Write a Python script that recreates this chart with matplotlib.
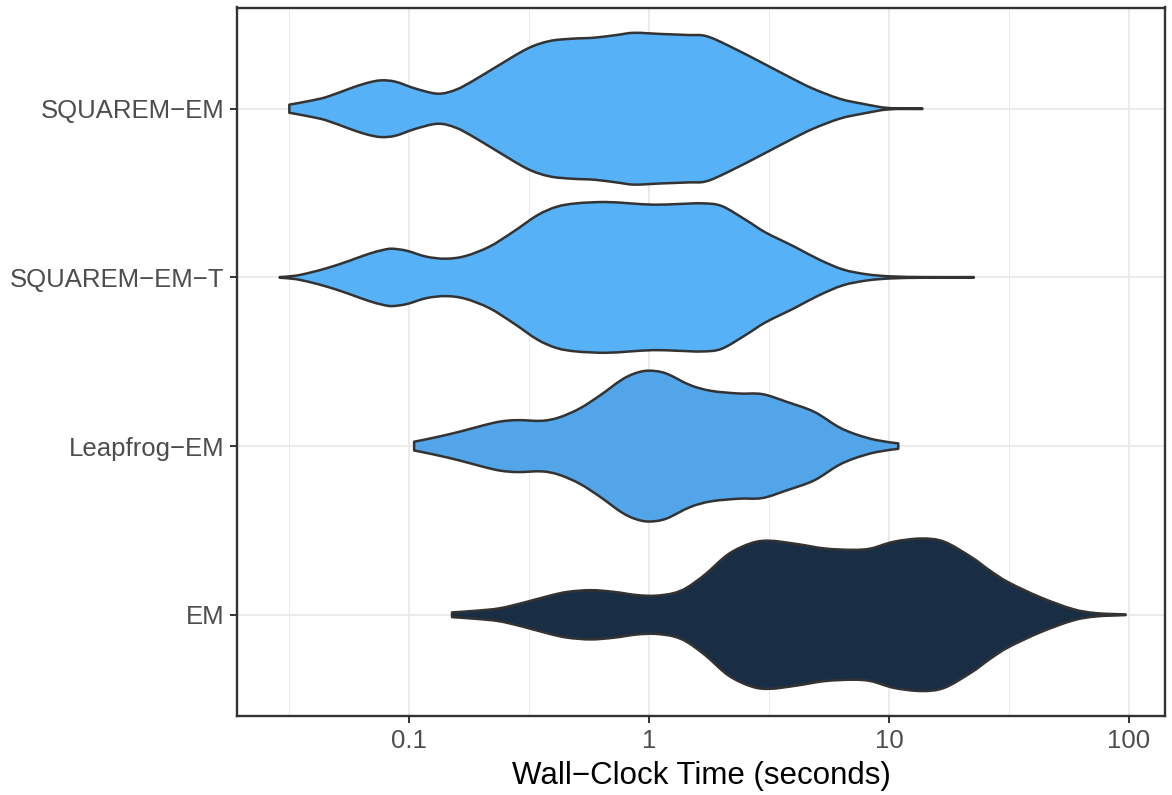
import numpy as np
import matplotlib
matplotlib.use("Agg")
import matplotlib.pyplot as plt
from matplotlib.path import Path
from matplotlib.patches import PathPatch
from matplotlib.ticker import FixedLocator, NullFormatter

plt.rcParams['font.family'] = ['Liberation Sans', 'DejaVu Sans']

# Methods, bottom to top
methods = ["EM", "Leapfrog\u2212EM", "SQUAREM\u2212EM\u2212T", "SQUAREM\u2212EM"]
fills = ["#192D45", "#52A5E8", "#56B1F7", "#56B1F7"]

# Violin outlines: wall-clock time (s) and half-width (in category units)
em_time = [0.151, 0.190, 0.237, 0.295, 0.385, 0.459, 0.572, 0.712, 0.888, 1.059,
           1.263, 1.442, 1.719, 2.143, 2.672, 3.185, 4.150, 5.405, 7.039, 8.395,
           10.46, 13.63, 16.99, 22.13, 26.40, 31.48, 42.85, 58.32, 72.70, 96.78]
em_width = [0.014, 0.024, 0.038, 0.069, 0.113, 0.136, 0.146, 0.136, 0.117, 0.113,
            0.128, 0.162, 0.241, 0.360, 0.425, 0.439, 0.419, 0.393, 0.385, 0.393,
            0.433, 0.452, 0.433, 0.340, 0.261, 0.192, 0.103, 0.034, 0.010, 0.002]

leap_time = [0.105, 0.128, 0.162, 0.204, 0.241, 0.284, 0.358, 0.422, 0.514, 0.627,
             0.765, 0.873, 0.996, 1.175, 1.481, 1.806, 2.352, 2.964, 3.735, 4.864,
             6.132, 7.232, 8.818, 10.93]
leap_width = [0.026, 0.051, 0.085, 0.123, 0.146, 0.154, 0.150, 0.170, 0.223, 0.302,
              0.391, 0.431, 0.447, 0.431, 0.362, 0.328, 0.312, 0.308, 0.263, 0.204,
              0.115, 0.071, 0.036, 0.016]

sqt_time = [0.0289, 0.0336, 0.0386, 0.0465, 0.0560, 0.0674, 0.0775, 0.0850, 0.0978,
            0.118, 0.142, 0.171, 0.216, 0.272, 0.343, 0.413, 0.498, 0.658, 0.831,
            1.048, 1.322, 1.668, 2.009, 2.535, 3.053, 4.036, 5.093, 6.427, 8.110,
            10.23, 14.17, 22.56]
sqt_width = [0.002, 0.010, 0.028, 0.059, 0.097, 0.138, 0.162, 0.170, 0.158,
             0.123, 0.111, 0.126, 0.182, 0.271, 0.369, 0.419, 0.439, 0.447, 0.439,
             0.431, 0.435, 0.439, 0.423, 0.340, 0.267, 0.182, 0.107, 0.047, 0.018,
             0.006, 0.002, 0.002]

sq_time = [0.0317, 0.0381, 0.0452, 0.0560, 0.0665, 0.0763, 0.0878, 0.1065, 0.132,
           0.157, 0.186, 0.230, 0.311, 0.385, 0.477, 0.591, 0.732, 0.868, 1.123,
           1.452, 1.724, 2.136, 3.008, 3.89, 4.82, 6.23, 7.72, 9.98, 13.77]
sq_width = [0.024, 0.045, 0.069, 0.117, 0.152, 0.168, 0.160, 0.119, 0.089,
            0.113, 0.168, 0.247, 0.356, 0.401, 0.415, 0.421, 0.437, 0.450, 0.443,
            0.437, 0.431, 0.375, 0.267, 0.184, 0.119, 0.059, 0.030, 0.004, 0.002]

x_breaks = [0.1, 1, 10, 100]
x_labels = ["0.1", "1", "10", "100"]
x_minor = [10 ** -1.5, 10 ** -0.5, 10 ** 0.5, 10 ** 1.5]

profiles = [(em_time, em_width), (leap_time, leap_width),
            (sqt_time, sqt_width), (sq_time, sq_width)]


def smooth_curve(px, py):
    """Cubic Bezier (Catmull-Rom) segments through the given vertices."""
    n = len(px)
    verts, codes = [], []
    for i in range(n - 1):
        i0, i2 = max(i - 1, 0), min(i + 2, n - 1)
        c1 = (px[i] + (px[i + 1] - px[i0]) / 6, py[i] + (py[i + 1] - py[i0]) / 6)
        c2 = (px[i + 1] - (px[i2] - px[i]) / 6, py[i + 1] - (py[i2] - py[i]) / 6)
        verts += [c1, c2, (px[i + 1], py[i + 1])]
        codes += [Path.CURVE4] * 3
    return verts, codes


def violin_path(times, widths, pos):
    lx = np.log10(np.asarray(times, dtype=float))
    w = np.asarray(widths, dtype=float)
    verts = [(lx[0], pos - w[0]), (lx[0], pos + w[0])]
    codes = [Path.MOVETO, Path.LINETO]
    v, c = smooth_curve(lx, pos + w)
    verts += v
    codes += c
    verts.append((lx[-1], pos - w[-1]))
    codes.append(Path.LINETO)
    v, c = smooth_curve(lx[::-1], (pos - w)[::-1])
    verts += v
    codes += c
    verts.append((lx[0], pos - w[0]))
    codes.append(Path.CLOSEPOLY)
    verts = np.array(verts)
    verts[:, 0] = 10 ** verts[:, 0]
    return Path(verts, codes)


W, H = 1172, 795
fig = plt.figure(figsize=(W / 100, H / 100), dpi=100)
ax = fig.add_axes([237 / W, (H - 716) / H, (1165 - 237) / W, (716 - 7.5) / H])

ax.set_xscale("log")
ax.set_xlim(10 ** -1.717, 10 ** 2.15)
ax.set_ylim(0.4, 4.6)

for pos, ((t, w), col) in enumerate(zip(profiles, fills), start=1):
    patch = PathPatch(violin_path(t, w, pos), facecolor=col, edgecolor="#333333",
                      linewidth=1.8, joinstyle="round", zorder=3)
    ax.add_patch(patch)

ax.xaxis.set_major_locator(FixedLocator(x_breaks))
ax.set_xticklabels(x_labels)
ax.xaxis.set_minor_locator(FixedLocator(x_minor))
ax.xaxis.set_minor_formatter(NullFormatter())
ax.set_yticks(range(1, len(methods) + 1))
ax.set_yticklabels(methods)

ax.set_axisbelow(True)
ax.grid(which="major", color="#EBEBEB", linewidth=1.4)
ax.grid(which="minor", axis="x", color="#EBEBEB", linewidth=0.7)

ax.tick_params(axis="both", which="major", length=5, width=1.4, color="#333333",
               labelsize=18.5, labelcolor="#4D4D4D", pad=4)
ax.tick_params(axis="x", which="minor", length=0)

for sp in ax.spines.values():
    sp.set_color("#333333")
    sp.set_linewidth(1.7)

ax.set_xlabel("Wall\u2212Clock Time (seconds)", fontsize=22.5, color="black", labelpad=6)

fig.savefig("out.png", dpi=100)
